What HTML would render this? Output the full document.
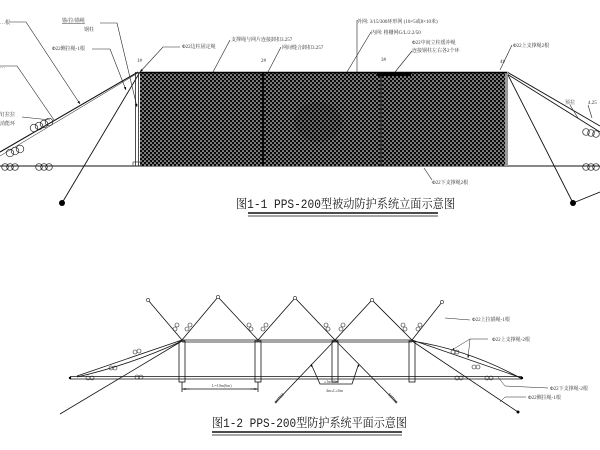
<!DOCTYPE html>
<html><head><meta charset="utf-8"><style>
html,body{margin:0;padding:0;background:#fff;}
svg{display:block;}
.t{font-family:"Liberation Serif","Noto Serif CJK SC",serif;font-size:5px;fill:#333;}
.s{font-family:"Liberation Serif","Noto Serif CJK SC",serif;font-size:4px;fill:#444;}
.ttl{font-family:"Liberation Mono","Noto Serif CJK SC",serif;font-size:12.5px;fill:#222;}
</style></head><body>
<svg width="600" height="450" viewBox="0 0 600 450" xmlns="http://www.w3.org/2000/svg">
<defs>
<pattern id="mesh" x="140" y="72" width="4" height="4" patternUnits="userSpaceOnUse">
<rect width="4" height="4" fill="#0a0a0a"/>
<circle cx="1" cy="1" r="0.8" fill="#fff"/>
<circle cx="3" cy="3" r="0.8" fill="#fff"/>
</pattern>
<marker id="ar" viewBox="0 0 10 10" refX="10" refY="5" markerWidth="5" markerHeight="5" orient="auto">
<path d="M0,1 L10,5 L0,9 Z" fill="#000"/>
</marker>
</defs>
<rect width="600" height="450" fill="#fff"/>

<!-- ================= ELEVATION ================= -->
<g stroke="#111" stroke-width="0.9" fill="none">
<line x1="0" y1="166" x2="600" y2="166" stroke-width="1.1"/>
<line x1="138" y1="72" x2="0" y2="152" stroke-width="1.1"/>
<line x1="138" y1="73" x2="0" y2="156" stroke-width="0.5"/>
<line x1="140" y1="72" x2="62" y2="203"/>
<line x1="507" y1="72" x2="600" y2="126"/>
<line x1="507" y1="74" x2="600" y2="132"/>
<line x1="507" y1="73" x2="573" y2="203"/>
<line x1="573" y1="203" x2="600" y2="192"/>
</g>
<circle cx="62" cy="203" r="3" fill="#000"/>
<circle cx="573" cy="203" r="3" fill="#000"/>

<!-- mesh -->
<rect x="140" y="72" width="365" height="94" fill="url(#mesh)"/>
<ellipse cx="318" cy="122" rx="24" ry="20" fill="#000" opacity="0.12"/>
<rect x="505" y="72" width="3" height="94" fill="#999"/>
<line x1="140" y1="72.5" x2="507" y2="72.5" stroke="#000" stroke-width="1.4"/>
<line x1="263" y1="72" x2="263" y2="166" stroke="#000" stroke-width="1.5"/>
<line x1="381" y1="72" x2="381" y2="166" stroke="#333" stroke-width="2"/>
<rect x="377" y="72" width="34" height="4" fill="#000"/>
<line x1="135.5" y1="72" x2="135.5" y2="166" stroke="#222" stroke-width="0.8"/>
<line x1="138.5" y1="72" x2="138.5" y2="166" stroke="#222" stroke-width="0.8"/>
<rect x="133" y="162" width="8" height="4" fill="none" stroke="#222" stroke-width="0.6"/>

<!-- coils elevation -->
<g fill="none" stroke="#222" stroke-width="0.7">
<circle cx="34" cy="128" r="3.8"/><circle cx="39" cy="126" r="3.8"/><circle cx="44" cy="124" r="3.8"/><circle cx="49" cy="122" r="3.8"/>
<circle cx="10" cy="153" r="3.8"/><circle cx="15" cy="151" r="3.8"/><circle cx="20" cy="149" r="3.8"/>
<circle cx="5" cy="167" r="3.3"/><circle cx="10" cy="167" r="3.3"/><circle cx="15" cy="167" r="3.3"/>
<circle cx="39" cy="167" r="3.3"/><circle cx="44" cy="167" r="3.3"/><circle cx="49" cy="167" r="3.3"/>
<circle cx="586" cy="132" r="3.3"/><circle cx="591" cy="133" r="3.3"/><circle cx="596" cy="134" r="3.3"/>
<circle cx="586" cy="167" r="3.3"/><circle cx="591" cy="167" r="3.3"/><circle cx="596" cy="167" r="3.3"/>
</g>

<!-- leaders elevation -->
<g stroke="#222" stroke-width="0.6" fill="none">
<polyline points="100,23 117,23 137,107" marker-end="url(#ar)"/>
<polyline points="92,49 110,49 126,90" marker-end="url(#ar)"/>
<polyline points="10,22 26,22 80,104" marker-end="url(#ar)"/>
<polyline points="0,66 17,66 54,120"/>
<polyline points="22,117 50,120"/>
<polyline points="180,47 163,47 140,72" marker-end="url(#ar)"/>
<polyline points="230,40 213,72"/>
<polyline points="281,47 268,72"/>
<polyline points="357,20 357,72"/>
<polyline points="371,32 347,72"/>
<polyline points="412,51 395,72"/>
<polyline points="512,45 500,70"/>
<polyline points="432,180 424,168"/>
<polyline points="570,105 578,118"/>
<polyline points="588,105 592,118"/>
</g>

<!-- labels elevation -->
<text class="t" x="0" y="24">…根</text>
<text class="t" x="0" y="68">…</text>
<text class="t" x="62" y="22" text-decoration="underline">锚/拉/锚绳</text>
<text class="t" x="84" y="31">钢柱</text>
<text class="t" x="52" y="50">Φ22侧拉绳-1根</text>
<text class="t" x="0" y="116">钉拉拉</text>
<text class="t" x="0" y="125">消能环</text>
<text class="t" x="137" y="62">1#</text>
<text class="t" x="261" y="62">2#</text>
<text class="t" x="381" y="61">3#</text>
<text class="t" x="500" y="63">4#</text>
<text class="t" x="182" y="48">Φ22边柱固定绳</text>
<text class="t" x="231" y="41">支撑绳与网片连接卸扣3.257</text>
<text class="t" x="282" y="49">网间缝合卸扣3.257</text>
<text class="t" x="357" y="23">外网: 3/15/300环形网 (10×5或8×10米)</text>
<text class="t" x="371" y="34">内网: 格栅网G/L/2.2/50</text>
<text class="t" x="412" y="44">Φ22中间立柱缓冲绳</text>
<text class="t" x="412" y="52">连接钢柱左右各2个环</text>
<text class="t" x="513" y="47">Φ22上支撑绳2根</text>
<text class="t" x="432" y="184">Φ22下支撑绳2根</text>
<text class="t" x="565" y="104">预拉</text>
<text class="t" x="588" y="104">4.25</text>

<!-- title 1 -->
<text class="ttl" x="236" y="208" textLength="219" lengthAdjust="spacingAndGlyphs">图1-1 PPS-200型被动防护系统立面示意图</text>
<line x1="248" y1="213" x2="438" y2="213" stroke="#111" stroke-width="1.4"/>
<line x1="248" y1="216" x2="438" y2="216" stroke="#111" stroke-width="0.8"/>

<!-- ================= PLAN ================= -->
<g stroke="#111" stroke-width="0.8" fill="none">
<polyline points="148,300 182,340 218,297 258,340 295,298 335,340 372,300 412,340 442,302"/>
<line x1="182" y1="340" x2="412" y2="340"/>
<line x1="182" y1="342" x2="412" y2="342"/>
<line x1="70" y1="376.5" x2="522" y2="376.5"/>
<line x1="70" y1="379" x2="522" y2="379"/>
<rect x="179" y="341" width="6" height="41"/>
<rect x="255" y="341" width="6" height="41"/>
<rect x="332" y="341" width="6" height="41"/>
<rect x="409" y="341" width="6" height="41"/>
<line x1="182" y1="340" x2="77" y2="376"/>
<path d="M182,341 Q130,365 77,377"/>
<line x1="182" y1="341" x2="60" y2="414"/>
<line x1="412" y1="340" x2="522" y2="378"/>
<path d="M412,341 Q470,350 522,379"/>
<line x1="412" y1="341" x2="518" y2="412"/>
<line x1="335" y1="340" x2="275" y2="403"/>
<line x1="335" y1="340" x2="397" y2="403"/>
<polyline points="312,366 320,384 352,384 358,366"/>
<line x1="182" y1="382" x2="182" y2="392"/>
<line x1="258" y1="382" x2="258" y2="392"/>
<line x1="182" y1="389" x2="258" y2="389"/>
</g>
<line x1="283" y1="394" x2="275" y2="403" stroke="#444" stroke-width="2.5" stroke-dasharray="1 0.7"/>
<line x1="389" y1="394" x2="397" y2="403" stroke="#444" stroke-width="2.5" stroke-dasharray="1 0.7"/>
<line x1="312" y1="367" x2="311" y2="364" stroke="#000" stroke-width="0.5" marker-end="url(#ar)"/>
<line x1="358" y1="367" x2="359" y2="364" stroke="#000" stroke-width="0.5" marker-end="url(#ar)"/>
<line x1="190" y1="389" x2="183" y2="389" stroke="#000" stroke-width="0.5" marker-end="url(#ar)"/>
<line x1="250" y1="389" x2="257" y2="389" stroke="#000" stroke-width="0.5" marker-end="url(#ar)"/>
<text class="s" x="212" y="387">L=10m(6m)</text>
<text class="s" x="324" y="383">≥1m≤3m</text>
<text class="s" x="326" y="392">4m≤L≤6m</text>

<g fill="#fff" stroke="#222" stroke-width="0.6">
<circle cx="148" cy="300" r="1.6"/><circle cx="218" cy="297" r="1.6"/><circle cx="295" cy="298" r="1.6"/><circle cx="372" cy="300" r="1.6"/><circle cx="442" cy="302" r="1.6"/>
</g>
<circle cx="518" cy="412" r="1.5" fill="#000"/>
<circle cx="70" cy="378" r="1.2" fill="#000"/>
<circle cx="522" cy="378" r="1.2" fill="#000"/>

<g fill="none" stroke="#222" stroke-width="0.6">
<circle cx="175" cy="329" r="2"/><circle cx="177" cy="325" r="2"/><circle cx="187" cy="329" r="2"/><circle cx="190" cy="325" r="2"/>
<circle cx="251" cy="329" r="2"/><circle cx="249" cy="325" r="2"/><circle cx="263" cy="329" r="2"/><circle cx="266" cy="325" r="2"/>
<circle cx="328" cy="329" r="2"/><circle cx="326" cy="325" r="2"/><circle cx="341" cy="329" r="2"/><circle cx="343" cy="325" r="2"/>
<circle cx="405" cy="329" r="2"/><circle cx="403" cy="325" r="2"/><circle cx="418" cy="329" r="2"/><circle cx="420" cy="325" r="2"/>
<circle cx="135" cy="352" r="2"/><circle cx="139" cy="351" r="2"/>
<circle cx="111" cy="368" r="2"/><circle cx="115" cy="368" r="2"/>
<circle cx="88" cy="378" r="2"/><circle cx="92" cy="378" r="2"/>
<circle cx="137" cy="377" r="2"/><circle cx="141" cy="377" r="2"/>
<circle cx="453" cy="352" r="2"/><circle cx="457" cy="352" r="2"/>
<circle cx="474" cy="367" r="2"/><circle cx="478" cy="367" r="2"/>
<circle cx="457" cy="378" r="2"/><circle cx="461" cy="378" r="2"/>
<circle cx="487" cy="378" r="2"/><circle cx="491" cy="378" r="2"/>
</g>

<g stroke="#222" stroke-width="0.5" fill="none">
<polyline points="470,320 445,318"/>
<polyline points="488,339 470,339 468,358" marker-end="url(#ar)"/>
<polyline points="470,339 452,350" marker-end="url(#ar)"/>
<polyline points="548,388 505,386 498,377"/>
<polyline points="526,397 505,397 500,402"/>
</g>
<text class="t" x="472" y="321">Φ22上拉锚绳-1根</text>
<text class="t" x="492" y="341">Φ22上支撑绳-2根</text>
<text class="t" x="550" y="390">Φ22下支撑绳-2根</text>
<text class="t" x="528" y="399">Φ22侧拉绳-1根</text>

<text class="ttl" x="212" y="427" textLength="195" lengthAdjust="spacingAndGlyphs">图1-2 PPS-200型防护系统平面示意图</text>
<line x1="212" y1="432" x2="402" y2="432" stroke="#111" stroke-width="1.4"/>
<line x1="212" y1="435" x2="402" y2="435" stroke="#111" stroke-width="0.8"/>
</svg>
</body></html>
